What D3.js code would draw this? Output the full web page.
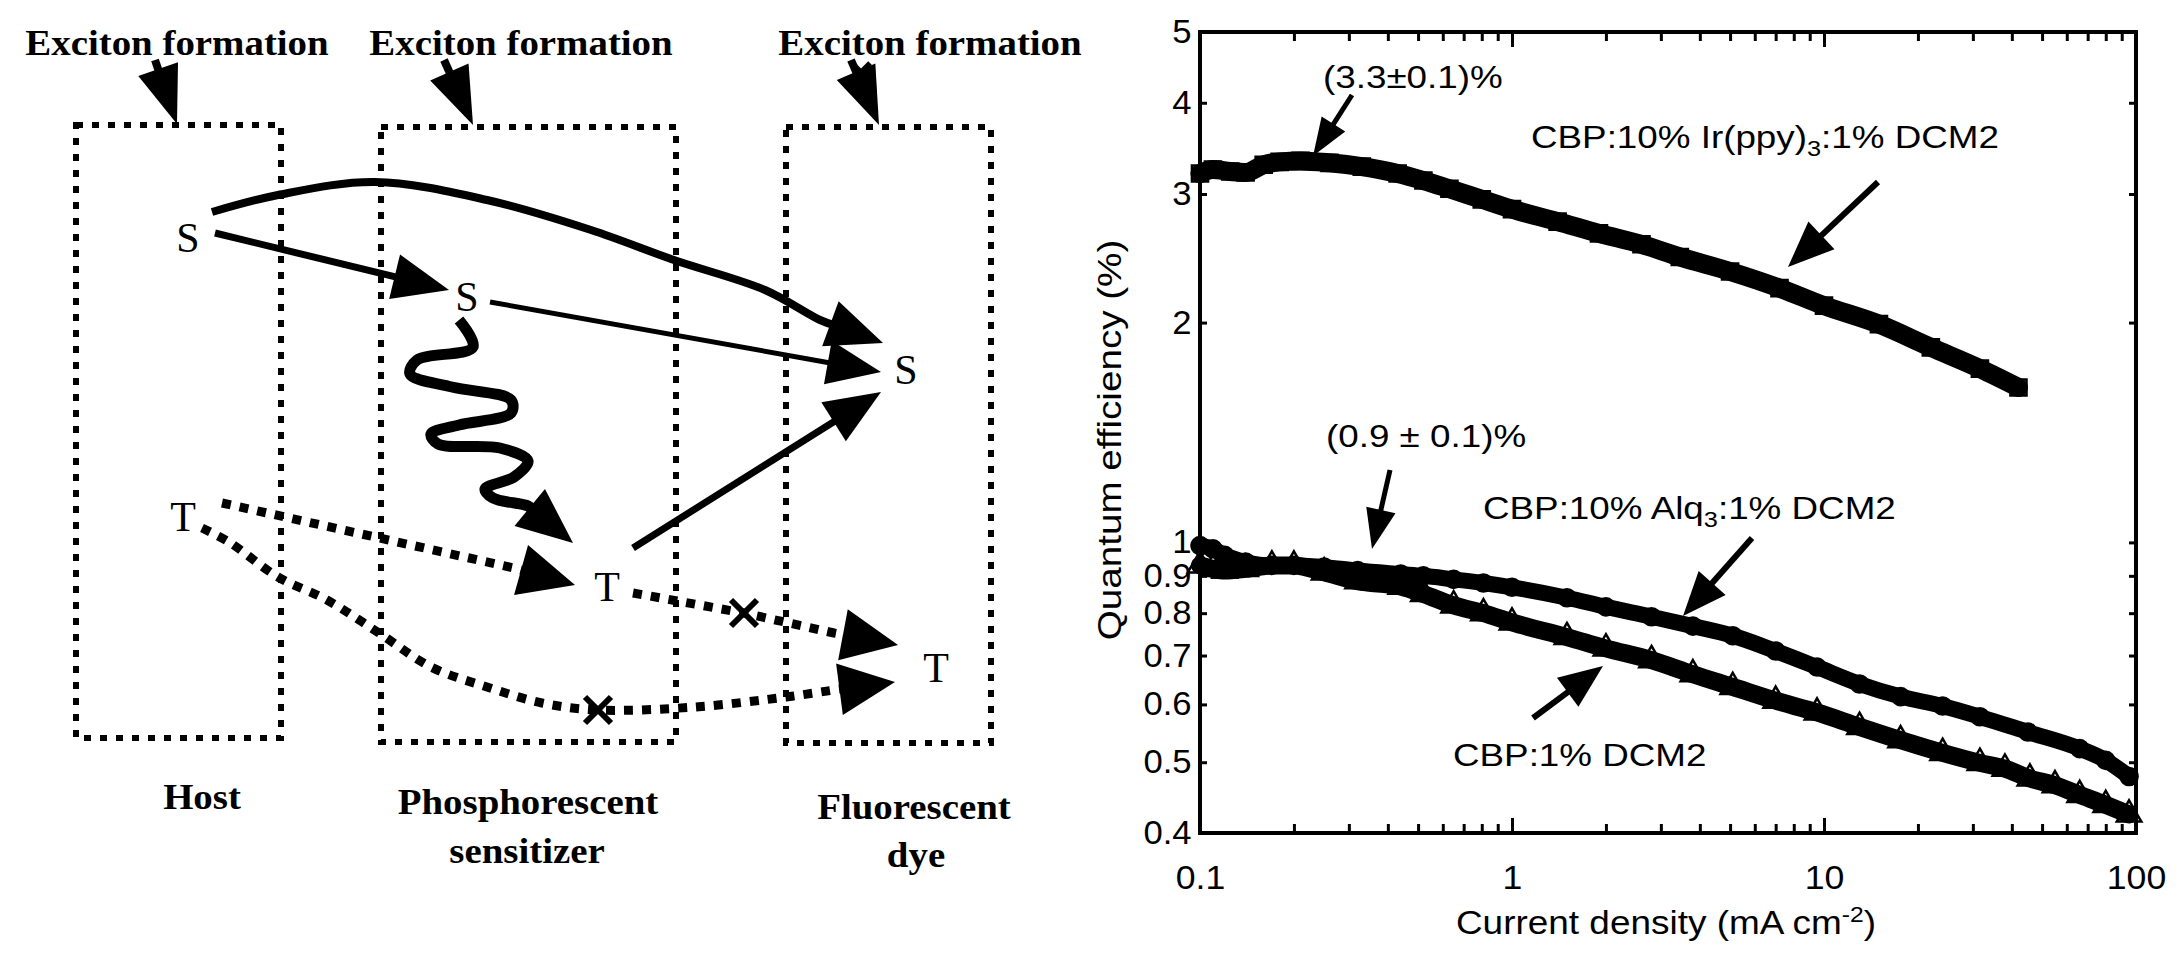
<!DOCTYPE html>
<html lang="en">
<head>
<meta charset="UTF-8">
<title>Exciton formation and quantum efficiency</title>
<script src="https://cdnjs.cloudflare.com/ajax/libs/d3/7.8.5/d3.min.js"></script>
<style>
  body { margin: 0; background: #fff; }
  .tick line { stroke: #000; stroke-width: 3; }
</style>
</head>
<body>
<div id="chart"></div>
<script>
var width = 2180, height = 959;

// quantum efficiency (%) vs current density (mA cm-2)
var irX  = [0.10, 0.11, 0.125, 0.14, 0.16, 0.18, 0.21, 0.26, 0.33, 0.43, 0.52, 0.63, 0.80, 1.0, 1.4, 1.9, 2.6, 3.45, 5.0, 7.2, 10, 15, 22, 31.6, 42];
var irY  = [3.20, 3.24, 3.22, 3.21, 3.29, 3.32, 3.33, 3.31, 3.27, 3.20, 3.13, 3.05, 2.95, 2.86, 2.75, 2.65, 2.56, 2.46, 2.35, 2.23, 2.11, 1.99, 1.85, 1.73, 1.63];

var alqX = [0.10, 0.11, 0.12, 0.14, 0.17, 0.20, 0.25, 0.32, 0.44, 0.52, 0.65, 0.81, 1.0, 1.5, 2.0, 2.8, 3.8, 5.1, 7.0, 9.5, 13, 17.6, 24, 31.6, 45, 66, 80, 95];
var alqY = [0.99, 0.98, 0.96, 0.94, 0.93, 0.93, 0.925, 0.915, 0.905, 0.90, 0.89, 0.88, 0.868, 0.84, 0.816, 0.791, 0.768, 0.745, 0.710, 0.675, 0.640, 0.615, 0.597, 0.577, 0.55, 0.522, 0.503, 0.478];

var cbpX = [0.10, 0.11, 0.12, 0.14, 0.17, 0.20, 0.25, 0.32, 0.44, 0.52, 0.65, 0.81, 1.0, 1.5, 2.0, 2.8, 3.8, 5.1, 7.0, 9.5, 13, 17.6, 24, 31.6, 38, 45.7, 55, 66, 80, 95];
var cbpY = [0.93, 0.92, 0.915, 0.92, 0.93, 0.93, 0.91, 0.885, 0.87, 0.85, 0.82, 0.80, 0.777, 0.742, 0.716, 0.69, 0.66, 0.634, 0.607, 0.585, 0.559, 0.536, 0.515, 0.499, 0.49, 0.475, 0.465, 0.451, 0.437, 0.424];

var xTicks = [0.1, 1, 10, 100];
var xTickLabels = ["0.1", "1", "10", "100"];
var xMinor = [0.2, 0.3, 0.4, 0.5, 0.6, 0.7, 0.8, 0.9, 2, 3, 4, 5, 6, 7, 8, 9, 20, 30, 40, 50, 60, 70, 80, 90];
var yTicks = [0.4, 0.5, 0.6, 0.7, 0.8, 0.9, 1, 2, 3, 4, 5];
var yTickLabels = ["0.4", "0.5", "0.6", "0.7", "0.8", "0.9", "1", "2", "3", "4", "5"];

var svg = d3.select("#chart").append("svg")
    .attr("width", width)
    .attr("height", height);

svg.append("rect").attr("width", width).attr("height", height).attr("fill", "#fff");

var sans = "'Liberation Sans', Arial, Helvetica, sans-serif";
var serif = "'Liberation Serif', 'Times New Roman', serif";

// arrow head: filled triangle pointing at tip, coming from 'from'
function head(g, from, tip, len, wid) {
    var dx = tip[0] - from[0], dy = tip[1] - from[1];
    var l = Math.sqrt(dx * dx + dy * dy);
    var ux = dx / l, uy = dy / l;
    var bx = tip[0] - ux * len, by = tip[1] - uy * len;
    var pts = [tip, [bx - uy * wid / 2, by + ux * wid / 2], [bx + uy * wid / 2, by - ux * wid / 2]];
    g.append("path").attr("d", "M" + pts.join("L") + "Z").attr("fill", "#000");
    return [bx + ux * 4, by + uy * 4];
}

function arrow(g, pts, len, wid, sw, dash, curve) {
    var n = pts.length;
    var base = head(g, pts[n - 2], pts[n - 1], len, wid);
    var line = pts.slice(0, n - 1).concat([base]);
    var p = g.append("path")
        .attr("d", d3.line().curve(curve || d3.curveLinear)(line))
        .attr("fill", "none")
        .attr("stroke", "#000")
        .attr("stroke-width", sw);
    if (dash) p.attr("stroke-dasharray", dash);
}

function cross(g, c, s, sw) {
    g.append("path")
        .attr("d", "M" + (c[0] - s) + "," + (c[1] - s) + "L" + (c[0] + s) + "," + (c[1] + s) +
                   "M" + (c[0] + s) + "," + (c[1] - s) + "L" + (c[0] - s) + "," + (c[1] + s))
        .attr("stroke", "#000").attr("stroke-width", sw);
}

function label(g, x, y, str, size, font, weight, sx, anchor) {
    return g.append("text")
        .attr("transform", "translate(" + x + "," + y + ") scale(" + sx + ",1)")
        .attr("text-anchor", anchor || "middle")
        .attr("font-family", font)
        .attr("font-size", size)
        .attr("font-weight", weight)
        .text(str);
}

// ---------------- left: energy transfer diagram ----------------
var left = svg.append("g");

var boxes = [[76, 125, 281, 738], [381, 127, 676, 742], [786, 127, 991, 743]];
boxes.forEach(function(b) {
    left.append("rect")
        .attr("x", b[0]).attr("y", b[1])
        .attr("width", b[2] - b[0]).attr("height", b[3] - b[1])
        .attr("fill", "none").attr("stroke", "#000")
        .attr("stroke-width", 6).attr("stroke-dasharray", "7 9");
});

[177, 521, 930].forEach(function(cx) {
    label(left, cx, 55, "Exciton formation", 36, serif, "bold", 1.08);
});

// exciton formation arrows
arrow(left, [[155, 60], [177, 124]], 58, 42, 8);
arrow(left, [[444, 60], [473, 125]], 58, 42, 8);
arrow(left, [[851, 60], [879, 125]], 58, 42, 8);
cross(left, [861, 72], 9, 5);

// state letters
var states = [["S", 188, 238], ["S", 467, 297], ["S", 906, 370], ["T", 183, 517], ["T", 607, 587], ["T", 936, 668]];
states.forEach(function(s) {
    label(left, s[1], s[2], s[0], 42, serif, "normal", 1.0).attr("dominant-baseline", "central");
});

// singlet transfers
arrow(left, [[212, 212], [278, 195], [375, 182], [487, 200], [591, 230], [674, 260], [765, 290], [820, 320], [883, 343]],
      56, 48, 8, null, d3.curveCatmullRom);
arrow(left, [[215, 233], [449, 290]], 56, 46, 7);
arrow(left, [[490, 302], [881, 372]], 54, 44, 5);
arrow(left, [[633, 548], [881, 392]], 56, 46, 7);

// wavy intersystem crossing
arrow(left, [[459, 320], [473, 347], [417, 360], [410, 374], [452, 387], [511, 400], [511, 413], [459, 425],
             [431, 434], [438, 444], [500, 448], [528, 461], [514, 477], [485, 489], [493, 498], [528, 506], [573, 543]],
      56, 48, 11, null, d3.curveCatmullRom);

// triplet transfers (dotted)
arrow(left, [[222, 503], [375, 537], [514, 568], [575, 585]], 56, 52, 9, "9 9");
arrow(left, [[202, 528], [229, 542], [278, 577], [327, 600], [379, 633], [431, 667], [487, 687], [542, 703], [598, 710],
             [695, 707], [786, 697], [834, 690], [895, 682]], 56, 52, 9, "9 9", d3.curveCatmullRom);
arrow(left, [[633, 593], [744, 613], [834, 633], [898, 645]], 56, 52, 9, "9 9");
cross(left, [744, 613], 13, 6);
cross(left, [598, 710], 13, 6);

label(left, 202, 809, "Host", 36, serif, "bold", 1.08);
label(left, 528, 814, "Phosphorescent", 36, serif, "bold", 1.08);
label(left, 527, 863, "sensitizer", 36, serif, "bold", 1.08);
label(left, 914, 819, "Fluorescent", 36, serif, "bold", 1.08);
label(left, 916, 867, "dye", 36, serif, "bold", 1.08);

// ---------------- right: quantum efficiency plot ----------------
var x = d3.scaleLog().domain([0.1, 100]).range([1200, 2136]);
var y = d3.scaleLog().domain([0.4, 5]).range([833, 32]);

var plot = svg.append("g");

plot.append("g").attr("transform", "translate(0,833)")
    .call(d3.axisBottom(x).tickValues(xMinor).tickSize(-9).tickSizeOuter(0).tickFormat(""));
plot.append("g").attr("transform", "translate(0,32)")
    .call(d3.axisTop(x).tickValues(xMinor).tickSize(-9).tickSizeOuter(0).tickFormat(""));
plot.append("g").attr("transform", "translate(0,32)")
    .call(d3.axisTop(x).tickValues(xTicks).tickSize(-15).tickSizeOuter(0).tickFormat(""));

var xAxis = plot.append("g").attr("transform", "translate(0,833)")
    .call(d3.axisBottom(x).tickValues(xTicks).tickSize(-15).tickSizeOuter(0).tickPadding(33)
        .tickFormat(function(d, i) { return xTickLabels[i]; }));

var yAxis = plot.append("g").attr("transform", "translate(1200,0)")
    .call(d3.axisLeft(y).tickValues(yTicks).tickSize(-7).tickSizeOuter(0).tickPadding(8)
        .tickFormat(function(d, i) { return yTickLabels[i]; }));
plot.append("g").attr("transform", "translate(2136,0)")
    .call(d3.axisRight(y).tickValues(yTicks).tickSize(-7).tickSizeOuter(0).tickFormat(""));

plot.selectAll(".domain").remove();
[xAxis, yAxis].forEach(function(a) {
    a.selectAll("text")
        .attr("font-family", sans)
        .attr("font-size", 33)
        .attr("fill", "#000");
});
xAxis.selectAll("text").attr("transform", "scale(1.08,1)");
yAxis.selectAll("text").attr("transform", "scale(1.05,1)");

plot.append("rect")
    .attr("x", 1200).attr("y", 32)
    .attr("width", 936).attr("height", 801)
    .attr("fill", "none").attr("stroke", "#000").attr("stroke-width", 4);

var series = [
    { xs: irX,  ys: irY,  band: 19, sym: d3.symbolSquare,   size: 260 },
    { xs: alqX, ys: alqY, band: 16, sym: d3.symbolCircle,   size: 230 },
    { xs: cbpX, ys: cbpY, band: 18, sym: d3.symbolTriangle, size: 260 }
];

var line = d3.line()
    .x(function(d) { return x(d[0]); })
    .y(function(d) { return y(d[1]); })
    .curve(d3.curveMonotoneX);

series.forEach(function(s) {
    var pts = s.xs.map(function(v, i) { return [v, s.ys[i]]; });
    plot.append("path")
        .datum(pts)
        .attr("d", line)
        .attr("fill", "none")
        .attr("stroke", "#000")
        .attr("stroke-width", s.band)
        .attr("stroke-linecap", "round");
    plot.append("g").selectAll("path")
        .data(pts)
        .enter()
        .append("path")
        .attr("transform", function(d) { return "translate(" + x(d[0]) + "," + y(d[1]) + ")"; })
        .attr("d", d3.symbol().type(s.sym).size(s.size))
        .attr("fill", "none")
        .attr("stroke", "#000")
        .attr("stroke-width", 2.5);
});

// annotations
label(plot, 1323, 88, "(3.3\u00b10.1)%", 32, sans, "normal", 1.15, "start");
var t1 = label(plot, 1531, 148, "CBP:10% Ir(ppy)", 32, sans, "normal", 1.15, "start");
t1.append("tspan").attr("font-size", 22).attr("dy", 8).text("3");
t1.append("tspan").attr("dy", -8).text(":1% DCM2");
label(plot, 1326, 447, "(0.9 \u00b1 0.1)%", 32, sans, "normal", 1.15, "start");
var t2 = label(plot, 1483, 519, "CBP:10% Alq", 32, sans, "normal", 1.15, "start");
t2.append("tspan").attr("font-size", 22).attr("dy", 8).text("3");
t2.append("tspan").attr("dy", -8).text(":1% DCM2");
label(plot, 1453, 766, "CBP:1% DCM2", 32, sans, "normal", 1.15, "start");

arrow(plot, [[1352, 95], [1313, 156]], 38, 28, 5);
arrow(plot, [[1878, 182], [1788, 267]], 46, 38, 6);
arrow(plot, [[1390, 470], [1372, 549]], 40, 30, 5);
arrow(plot, [[1752, 538], [1683, 616]], 44, 36, 6);
arrow(plot, [[1533, 718], [1603, 666]], 44, 36, 6);

// axis titles
label(plot, 1666, 934, "Current density (mA cm", 33, sans, "normal", 1.12)
    .call(function(t) {
        t.append("tspan").attr("font-size", 22).attr("dy", -12).text("-2");
        t.append("tspan").attr("dy", 12).text(")");
    });
label(plot, 1121, 440, "Quantum efficiency (%)", 33, sans, "normal", 1.17)
    .attr("transform", "translate(1121,440) rotate(-90) scale(1.17,1)");
</script>
</body>
</html>
